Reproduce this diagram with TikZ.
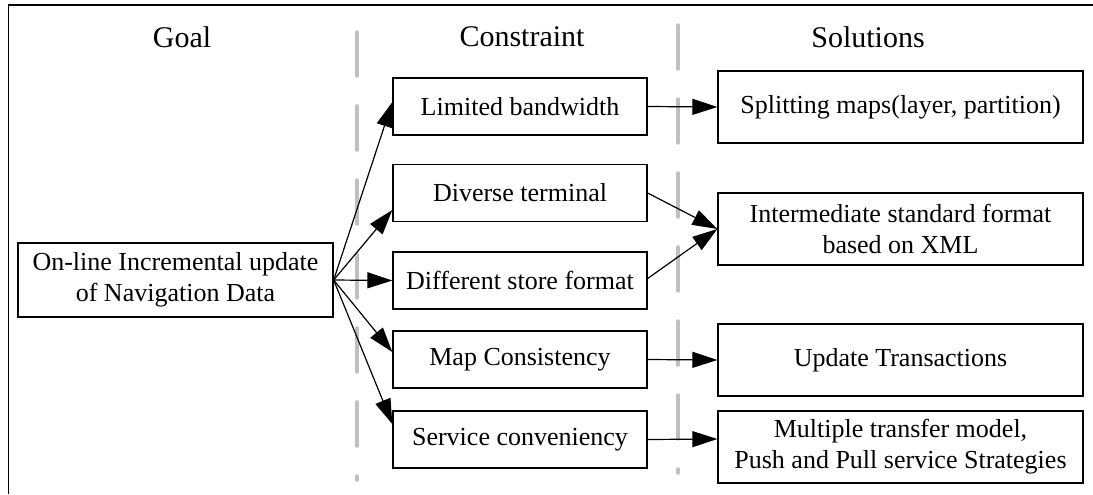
\documentclass[tikz,border=0pt]{standalone}
\usepackage{fontspec}
\setmainfont{Liberation Serif}
\usetikzlibrary{arrows.meta,calc}
\begin{document}
\begin{tikzpicture}[x=0.5pt,y=-0.5pt,
  box/.style={draw,line width=0.65pt,align=center,inner sep=0pt,
    font=\fontsize{13}{15.5}\selectfont},
  cbox/.style={box,minimum width=127pt,minimum height=28.5pt},
  sbox/.style={box,minimum width=182.5pt,minimum height=36pt},
  head/.style={font=\fontsize{15}{18}\selectfont,inner sep=0pt},
  conn/.style={line width=0.6pt,-{Triangle[length=12.5pt,width=8pt]}},
  sep/.style={draw=black!25,line width=2.3pt,line cap=round,
    dash pattern=on 21.5pt off 15.5pt}]
\useasboundingbox (0,0) rectangle (1093,494);
% frame (cropped at right and bottom)
\draw[line width=0.9pt] (8.5,494) -- (8.5,5) -- (1093,5);
% headings
\node[head] (hg) at (182,37) {Goal};
\node[head] (hc) at (522,37) {Constraint};
\node[head] (hs) at (868,37) {Solutions};
% separators
\coordinate (s1a) at (357,32.5);
\coordinate (s1b) at (357,479.5);
\coordinate (s2a) at (678,25.5);
\coordinate (s2b) at (678,472.5);
\draw[sep] (s1a) -- (s1b);
\draw[sep] (s2a) -- (s2b);
% goal
\node[box,minimum width=157.5pt,minimum height=37pt] (goal) at (175.5,280)
  {On-line Incremental update\\of Navigation Data};
% constraints
\node[cbox] (lim) at (520,106.5) {Limited bandwidth};
\node[cbox] (div) at (520,193) {Diverse terminal};
\node[cbox] (dif) at (520,280.5) {Different store format};
\node[cbox] (map) at (520,359.5) {Map Consistency};
\node[cbox] (ser) at (520,439.5) {Service conveniency};
% solutions
\node[sbox] (spl) at (900.5,107) {Splitting maps(layer, partition)};
\node[sbox] (int) at (900.5,229) {Intermediate standard format\\based on XML};
\node[sbox] (upd) at (900.5,360) {Update Transactions};
\node[sbox] (mul) at (900.5,447) {Multiple transfer model,\\Push and Pull service Strategies};
% goal to constraints
\draw[conn] (goal.east) -- ($(lim.west)+(0,-4.5)$);
\draw[conn] (goal.east) -- ($(div.west)+(0,17)$);
\draw[conn] (goal.east) -- (dif.west);
\draw[conn] (goal.east) -- ($(map.west)+(0,-7.5)$);
\draw[conn] (goal.east) -- ($(ser.west)+(0,-15.5)$);
% constraints to solutions
\draw[conn] (lim.east) -- (spl.west);
\draw[conn] (div.east) -- (int.west);
\draw[conn] ($(dif.east)+(0,-2)$) -- (int.west);
\draw[conn] (map.east) -- (upd.west);
\draw[conn] (ser.east) -- ($(mul.west)+(0,-8)$);
\end{tikzpicture}
\end{document}
